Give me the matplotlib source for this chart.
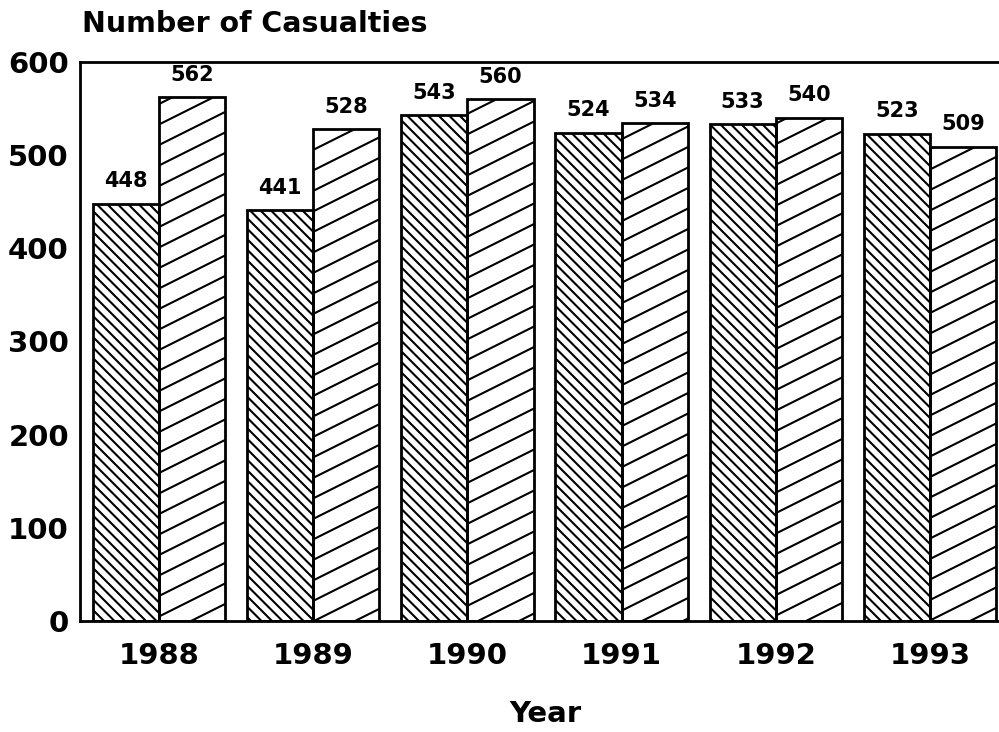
import numpy as np
import matplotlib
matplotlib.use("Agg")
import matplotlib.pyplot as plt
from matplotlib.collections import LineCollection

years = ["1988", "1989", "1990", "1991", "1992", "1993"]
series_a = [448, 441, 543, 524, 533, 523]
series_b = [562, 528, 560, 534, 540, 509]

plt.rcParams["font.family"] = ["DejaVu Sans"]
plt.rcParams["font.weight"] = "bold"

W, H = 9.99, 7.32
fig = plt.figure(figsize=(W, H), dpi=100)
ax = fig.add_axes([80 / 999, 1 - 621 / 732, 1 - 80 / 999, (621 - 62) / 732])

x = np.arange(len(years))
bw = 0.43
bars_a = ax.bar(x - bw / 2, series_a, bw, color="white", edgecolor="black", linewidth=2, zorder=2)
bars_b = ax.bar(x + bw / 2, series_b, bw, color="white", edgecolor="black", linewidth=2, zorder=2)


def hatch_lines(slope, step):
    # lines in figure inches, y = slope * x + b
    segs = []
    lo = min(0, -slope * W) - 1
    hi = H + max(0, -slope * W) + 1
    for b in np.arange(lo, hi, step):
        segs.append([(0, b), (W, slope * W + b)])
    return segs


def add_hatch(bars, slope, step):
    for rect in bars:
        lc = LineCollection(hatch_lines(slope, step), colors="black", linewidths=1.5,
                            transform=fig.dpi_scale_trans, zorder=1.5)
        ax.add_collection(lc, autolim=False)
        lc.set_clip_path(rect)


add_hatch(bars_a, -1.0, 0.105)
add_hatch(bars_b, 0.5, 0.205)

# draw the bar outlines again on top of the hatching
for bars in (bars_a, bars_b):
    for rect in bars:
        rect.set_facecolor("none")
        rect.set_zorder(3)

for bars, vals in [(bars_a, series_a), (bars_b, series_b)]:
    for rect, v in zip(bars, vals):
        ax.annotate(str(v), (rect.get_x() + rect.get_width() / 2, v),
                    xytext=(0, 9), textcoords="offset points",
                    ha="center", va="bottom", fontsize=15, fontweight="bold")

ax.set_xlim(-0.512, 5.447)
ax.set_ylim(0, 600)
ax.set_yticks([0, 100, 200, 300, 400, 500, 600])
ax.set_xticks(x)
ax.set_xticklabels(years)
ax.tick_params(axis="both", length=0, labelsize=21)
ax.tick_params(axis="y", pad=8)
ax.tick_params(axis="x", pad=15)
for lab in ax.get_xticklabels() + ax.get_yticklabels():
    lab.set_fontweight("bold")

ax.spines["right"].set_visible(False)
for s in ["left", "top", "bottom"]:
    ax.spines[s].set_linewidth(2)

fig.text(545 / 999, 1 - 714 / 732, "Year", ha="center", va="center", fontsize=21, fontweight="bold")
fig.text(82 / 999, 1 - 24 / 732, "Number of Casualties", ha="left", va="center",
         fontsize=20.5, fontweight="bold")

fig.savefig("out.png", dpi=100)
